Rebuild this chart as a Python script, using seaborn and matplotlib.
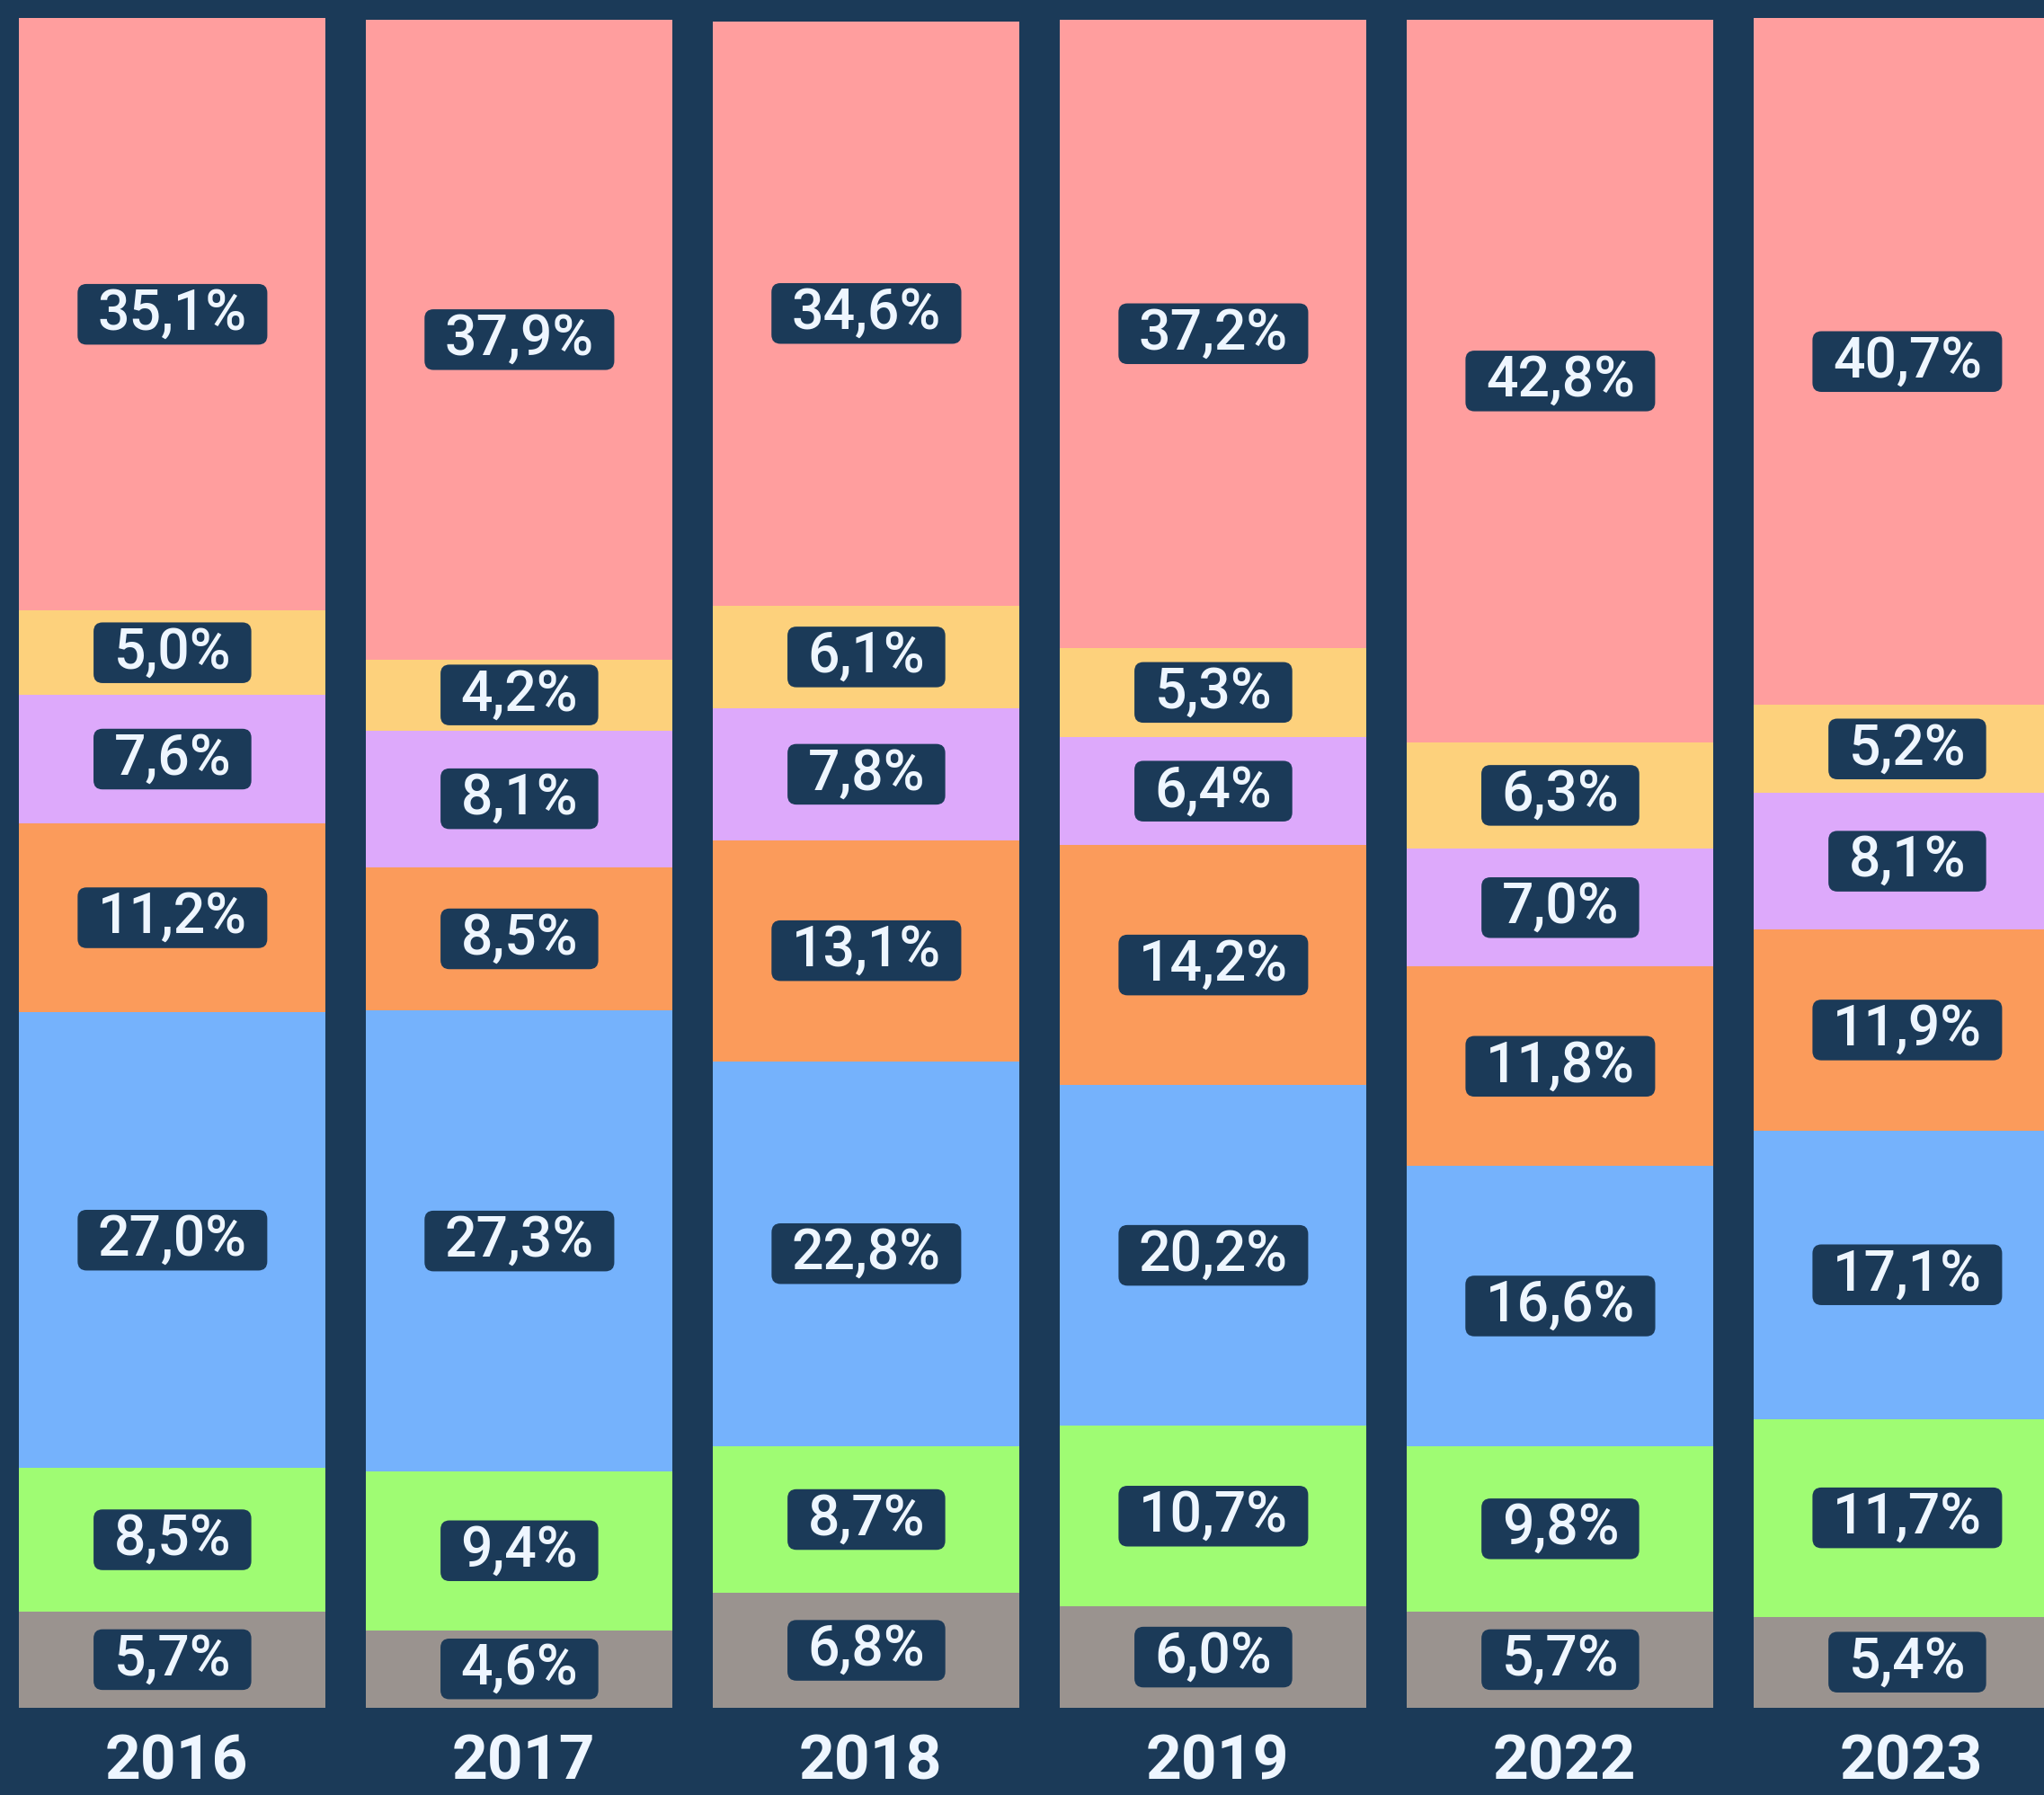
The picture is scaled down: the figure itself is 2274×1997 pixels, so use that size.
import matplotlib
matplotlib.use("Agg")
import matplotlib.pyplot as plt
from matplotlib.patches import BoxStyle
import pandas as pd
import seaborn as sns

years = ['2016', '2017', '2018', '2019', '2022', '2023']
# layers from bottom to top
gray = [5.7, 4.6, 6.8, 6.0, 5.7, 5.4]
green = [8.5, 9.4, 8.7, 10.7, 9.8, 11.7]
blue = [27.0, 27.3, 22.8, 20.2, 16.6, 17.1]
orange = [11.2, 8.5, 13.1, 14.2, 11.8, 11.9]
lavender = [7.6, 8.1, 7.8, 6.4, 7.0, 8.1]
yellow = [5.0, 4.2, 6.1, 5.3, 6.3, 5.2]
pink = [35.1, 37.9, 34.6, 37.2, 42.8, 40.7]

layers = [gray, green, blue, orange, lavender, yellow, pink]
colors = ['#9a938f', '#9ffc73', '#75b2fc', '#fb9b5b', '#dda9fb', '#fdd17c', '#ff9e9e']
bg = '#1b3a58'
txt_col = '#eef6ff'
fonts = ['Roboto', 'DejaVu Sans']


class LabelBox:
    # rounded box with separate x / y padding (in font-size units)
    def __init__(self, padx=0.36, pady=0.06, r=0.16):
        self.padx, self.pady, self.r = padx, pady, r

    def __call__(self, x0, y0, width, height, mutation_size):
        px = self.padx * mutation_size
        py = self.pady * mutation_size
        return BoxStyle.Round(pad=0, rounding_size=self.r)(
            x0 - px, y0 - py, width + 2 * px, height + 2 * py, mutation_size)


df = pd.DataFrame(layers, columns=years)
cum = df.cumsum(axis=0)
base = cum - df

sns.set_style('white')
plt.rcParams['font.family'] = fonts

fig = plt.figure(figsize=(22.74, 19.97), dpi=100)
fig.patch.set_facecolor(bg)
ax = fig.add_axes([0, 0, 1, 1])
ax.set_facecolor(bg)

# draw cumulative bars from the top layer down so each covers the one above
for k in reversed(range(len(layers))):
    sns.barplot(x=years, y=cum.iloc[k].values, order=years, color=colors[k],
                saturation=1, width=0.883, linewidth=0, errorbar=None, ax=ax)

for k in range(len(layers)):
    for i, yr in enumerate(years):
        v = df.iloc[k, i]
        lab = f"{v:.1f}".replace('.', ',') + '%'
        ax.text(i, base.iloc[k, i] + v / 2, lab, ha='center', va='center',
                fontsize=45, fontweight='medium', color=txt_col, family=fonts,
                bbox=dict(boxstyle=LabelBox(), fc=bg, ec='none'))

for i, yr in enumerate(years):
    ax.text(i + 0.012, -4.25, yr, ha='center', va='baseline', fontsize=50,
            fontweight='bold', color=txt_col, family=fonts)

ax.set_xlim(-0.497, 5.394)
ax.set_ylim(-5.17, 101.17)
ax.axis('off')

fig.savefig('out.png', dpi=100, facecolor=bg)
